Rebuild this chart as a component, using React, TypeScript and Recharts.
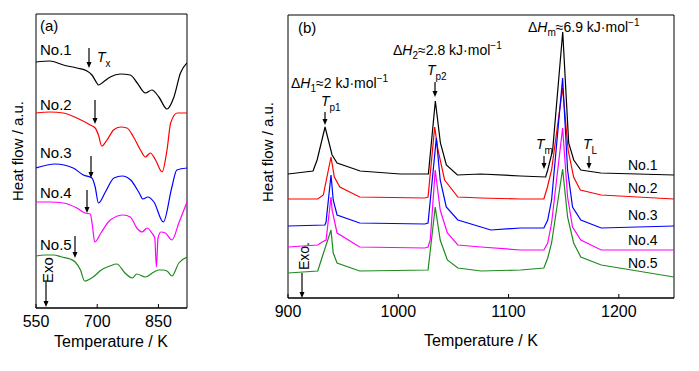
import React from "react";
import { LineChart, Line, XAxis, YAxis, ReferenceArea } from "recharts";

// panel (a): low temperature range, heat flow in a.u.
const aTemps1 = [550, 584, 617, 650, 675, 687, 699, 703, 715, 732, 757, 781, 798, 818, 834, 851, 871, 888, 904, 920];
const aFlow1 = [246, 247, 243, 240, 237, 233, 225, 223, 226, 231, 234, 233, 225, 215, 218, 211, 199, 211, 235, 245];
const aTemps2 = [550, 584, 617, 650, 683, 695, 703, 711, 724, 740, 757, 773, 789, 806, 818, 830, 843, 859, 871, 880, 896, 920];
const aFlow2 = [195, 196, 195, 190, 183, 180, 173, 162, 168, 178, 181, 180, 171, 158, 151, 155, 148, 136, 158, 185, 195, 195];
const aTemps3 = [550, 597, 641, 666, 687, 695, 703, 720, 741, 761, 782, 803, 812, 824, 839, 862, 883, 895, 920];
const aFlow3 = [140, 144, 140, 133, 130, 121, 105, 116, 130, 132, 128, 115, 109, 111, 106, 86, 121, 138, 140];
const aTemps4 = [550, 584, 617, 650, 670, 683, 688, 694, 709, 732, 764, 781, 797, 810, 822, 834, 841, 845, 849, 856, 867, 883, 900, 920];
const aFlow4 = [106, 106, 105, 100, 95, 94, 83, 66, 75, 88, 93, 91, 80, 76, 80, 75, 70, 41, 70, 76, 75, 68, 85, 106];
const aTemps5 = [550, 572, 593, 613, 634, 646, 659, 669, 690, 710, 731, 748, 768, 786, 797, 818, 839, 851, 860, 871, 883, 900, 920];
const aFlow5 = [52, 53, 53, 51, 49, 46, 38, 27, 31, 38, 42, 44, 35, 30, 34, 31, 36, 38, 38, 37, 32, 45, 51];

// panel (b): high temperature range
const bTemps1 = [900, 922.7, 926.4, 933.6, 940, 944.5, 965.5, 1001.8, 1027.3, 1033.6, 1038.2, 1043.6, 1053.6, 1074.5, 1110.9, 1133.6, 1135.5, 1140, 1149.1, 1154.5, 1159.1, 1165.5, 1183.6, 1250];
const bFlow1 = [124, 127, 138, 171, 143, 135, 127, 124, 124, 197, 155, 133, 123, 124, 122, 121, 128, 148, 266, 155, 138, 128, 125, 123];
const bTemps2 = [900, 927, 932, 939, 942, 947, 965, 1024, 1027, 1033, 1036, 1042, 1054, 1075, 1111, 1132, 1135, 1139, 1149, 1154, 1159, 1165, 1184, 1250];
const bFlow2 = [99, 99, 103, 141, 121, 111, 101, 100, 101, 171, 148, 118, 101, 100, 99, 99, 110, 128, 210, 148, 121, 108, 103, 99];
const bTemps3 = [900, 933.5, 934.5, 939, 941, 944.5, 965, 1024, 1027, 1034.5, 1038, 1043.5, 1054, 1084, 1111, 1132, 1135.5, 1139, 1149, 1153.5, 1158, 1165.5, 1184, 1250];
const bFlow3 = [72, 73, 76, 123, 98, 83, 75, 74, 75, 160, 118, 91, 78, 68, 70, 70, 78, 98, 220, 128, 91, 78, 70, 72];
const bTemps4 = [900, 927, 931, 934.5, 939, 940, 944.5, 965, 1024, 1027, 1029, 1033.5, 1038, 1044.5, 1054, 1075, 1111, 1132, 1135.5, 1139, 1149, 1153.5, 1158, 1165.5, 1184, 1250];
const bFlow4 = [51, 53, 56, 58, 101, 88, 65, 51, 50, 51, 58, 128, 88, 65, 53, 51, 48, 48, 55, 75, 170, 101, 71, 58, 48, 48];
const bTemps5 = [900, 927, 931, 939, 941, 944.5, 965, 1027, 1033.5, 1038, 1044.5, 1054, 1075, 1111, 1132, 1135.5, 1139, 1149, 1153.5, 1159, 1165.5, 1184, 1250];
const bFlow5 = [25, 27, 41, 68, 45, 35, 27, 28, 91, 58, 38, 30, 27, 28, 30, 40, 55, 129, 81, 55, 41, 33, 21];

const aTicks = [550, 700, 850];
const bTicks = [900, 1000, 1100, 1200];
const sampleNames = ["No.1", "No.2", "No.3", "No.4", "No.5"];
const colors = ["#000000", "#ff0000", "#0000ff", "#ff00ff", "#1f8a1f"];

const FONT = "'Liberation Sans', Arial, sans-serif";

const zip = (t: number[], v: number[]) => t.map((x, i) => ({ t: x, v: v[i] }));

const aSeries = [zip(aTemps1, aFlow1), zip(aTemps2, aFlow2), zip(aTemps3, aFlow3), zip(aTemps4, aFlow4), zip(aTemps5, aFlow5)];
const bSeries = [zip(bTemps1, bFlow1), zip(bTemps2, bFlow2), zip(bTemps3, bFlow3), zip(bTemps4, bFlow4), zip(bTemps5, bFlow5)];

const Arrow = ({ x, y1, y2 }: { x: number; y1: number; y2: number }) => (
  <g>
    <line x1={x} y1={y1} x2={x} y2={y2 - 5} stroke="#000" strokeWidth={1.2} />
    <polygon points={`${x - 2.5},${y2 - 6} ${x + 2.5},${y2 - 6} ${x},${y2}`} fill="#000" />
  </g>
);

const Enthalpy = ({ x, y, sub, val }: { x: number; y: number; sub: string; val: string }) => (
  <text x={x} y={y} fontSize={14} fontFamily={FONT} fill="#000">
    Δ<tspan fontStyle="italic">H</tspan>
    <tspan dy={4} fontSize={10}>{sub}</tspan>
    <tspan dy={-4}>≈{val} kJ·mol</tspan>
    <tspan dy={-6} fontSize={10}>−1</tspan>
  </text>
);

const TLabel = ({ x, y, sub }: { x: number; y: number; sub: string }) => (
  <text x={x} y={y} fontSize={14} fontFamily={FONT} fill="#000">
    <tspan fontStyle="italic">T</tspan>
    <tspan dy={5} fontSize={10}>{sub}</tspan>
  </text>
);

function PanelA() {
  return (
    <LineChart width={200} height={371} margin={{ top: 14, right: 13, bottom: 33, left: 36 }}>
      <XAxis
        type="number"
        dataKey="t"
        domain={[550, 920]}
        ticks={aTicks}
        interval={0}
        allowDataOverflow
        height={30}
        tickSize={-4}
        tickMargin={12}
        axisLine={{ stroke: "#000" }}
        tickLine={{ stroke: "#000" }}
        tick={{ fill: "#000", fontSize: 16, fontFamily: FONT }}
      />
      <YAxis type="number" dataKey="v" domain={[0, 294]} hide />
      <ReferenceArea x1={550} x2={920} y1={0} y2={294} fill="none" stroke="#000" strokeWidth={1} fillOpacity={0} />
      {aSeries.map((d, i) => (
        <Line
          key={sampleNames[i]}
          data={d}
          dataKey="v"
          type="monotone"
          stroke={colors[i]}
          strokeWidth={1.2}
          dot={false}
          isAnimationActive={false}
        />
      ))}
    </LineChart>
  );
}

function PanelB() {
  return (
    <LineChart width={499} height={371} margin={{ top: 15, right: 25, bottom: 43, left: 88 }}>
      <XAxis
        type="number"
        dataKey="t"
        domain={[900, 1250]}
        ticks={bTicks}
        interval={0}
        allowDataOverflow
        height={30}
        tickSize={-4}
        tickMargin={12}
        axisLine={{ stroke: "#000" }}
        tickLine={{ stroke: "#000" }}
        tick={{ fill: "#000", fontSize: 16, fontFamily: FONT }}
      />
      <YAxis type="number" dataKey="v" domain={[0, 283]} hide />
      <ReferenceArea x1={900} x2={1250} y1={0} y2={283} fill="none" stroke="#000" strokeWidth={1} fillOpacity={0} />
      {bSeries.map((d, i) => (
        <Line
          key={sampleNames[i]}
          data={d}
          dataKey="v"
          type="linear"
          stroke={colors[i]}
          strokeWidth={1.2}
          dot={false}
          isAnimationActive={false}
        />
      ))}
    </LineChart>
  );
}

export default function App() {
  const aLabelY = [55, 110, 158, 198, 250];
  const bLabelY = [170, 193, 220, 245, 268];
  return (
    <div style={{ position: "absolute", left: 0, top: 0, width: 699, height: 371, background: "#fff" }}>
      <div style={{ position: "absolute", left: 0, top: 0 }}>
        <PanelA />
      </div>
      <div style={{ position: "absolute", left: 200, top: 0 }}>
        <PanelB />
      </div>
      <svg width={699} height={371} style={{ position: "absolute", left: 0, top: 0, pointerEvents: "none" }}>
        {/* axis titles */}
        <text x={111} y={347} textAnchor="middle" fontSize={16} fontFamily={FONT}>Temperature / K</text>
        <text x={481} y={346} textAnchor="middle" fontSize={16} fontFamily={FONT}>Temperature / K</text>
        <text transform="translate(23,151) rotate(-90)" textAnchor="middle" fontSize={15} fontFamily={FONT}>Heat flow / a.u.</text>
        <text transform="translate(273,152) rotate(-90)" textAnchor="middle" fontSize={15} fontFamily={FONT}>Heat flow / a.u.</text>

        {/* panel (a) */}
        <text x={40} y={31} fontSize={15} fontFamily={FONT}>(a)</text>
        {sampleNames.map((n, i) => (
          <text key={n} x={40} y={aLabelY[i]} fontSize={15} fontFamily={FONT}>{n}</text>
        ))}
        <TLabel x={97} y={62} sub="x" />
        <Arrow x={89} y1={48} y2={68} />
        <Arrow x={95} y1={100} y2={124} />
        <Arrow x={91} y1={156} y2={178} />
        <Arrow x={87} y1={190} y2={213} />
        <Arrow x={75} y1={236} y2={258} />
        <text transform="translate(53,270) rotate(-90)" textAnchor="middle" fontSize={15} fontFamily={FONT}>Exo</text>
        <Arrow x={46} y1={282} y2={307} />

        {/* panel (b) */}
        <text x={298} y={33} fontSize={15} fontFamily={FONT}>(b)</text>
        {sampleNames.map((n, i) => (
          <text key={n} x={628} y={bLabelY[i]} fontSize={14} fontFamily={FONT}>{n}</text>
        ))}
        <Enthalpy x={291} y={88} sub="1" val="2" />
        <Enthalpy x={393} y={55} sub="2" val="2.8" />
        <Enthalpy x={528} y={32} sub="m" val="6.9" />
        <TLabel x={321} y={106} sub="p1" />
        <Arrow x={325} y1={112} y2={125} />
        <TLabel x={427} y={75} sub="p2" />
        <Arrow x={435} y1={82} y2={97} />
        <TLabel x={536} y={149} sub="m" />
        <Arrow x={544} y1={156} y2={169} />
        <TLabel x={583} y={149} sub="L" />
        <Arrow x={589} y1={156} y2={169} />
        <text transform="translate(309,256) rotate(-90)" textAnchor="middle" fontSize={14} fontFamily={FONT}>Exo.</text>
        <Arrow x={302} y1={273} y2={298} />
      </svg>
    </div>
  );
}
